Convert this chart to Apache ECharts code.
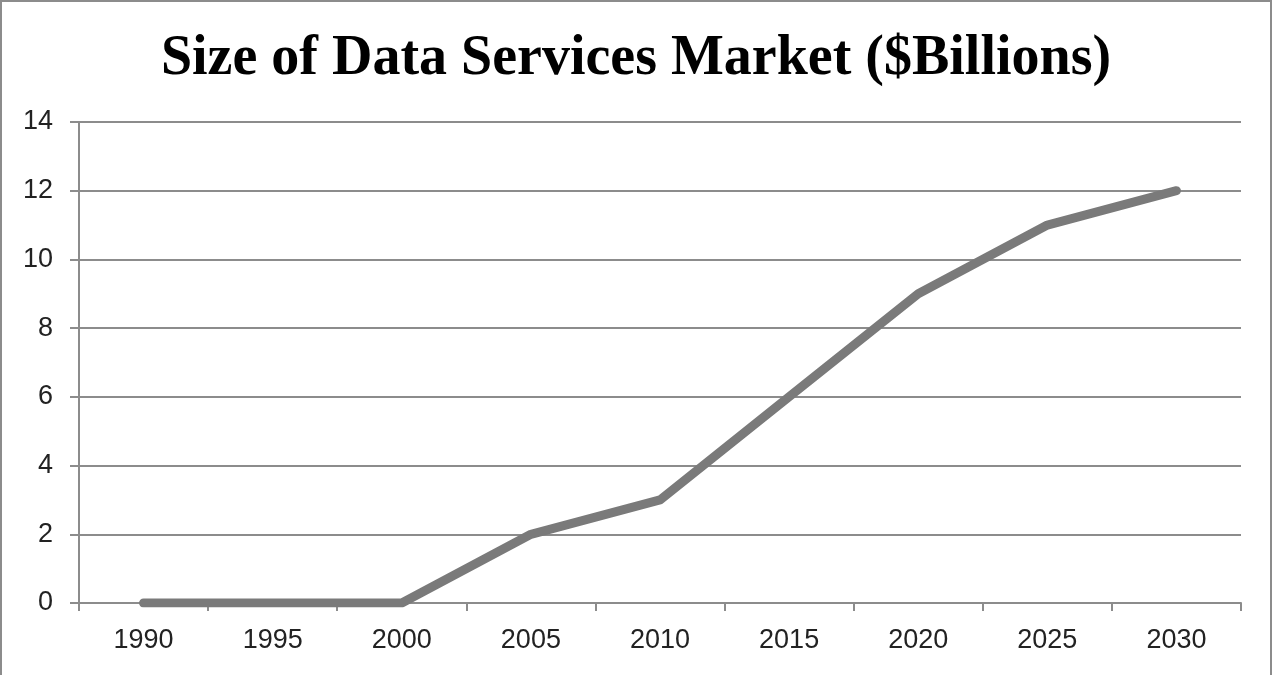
<!DOCTYPE html>
<html><head><meta charset="utf-8">
<script src="https://cdn.jsdelivr.net/npm/echarts@6/dist/echarts.min.js"></script>
<style>html,body{margin:0;padding:0;background:#fff}#c{width:1272px;height:675px;box-sizing:border-box;border:2px solid #8c8c8c;border-bottom:none}</style>
</head><body><div id="c"></div>
<script>
const titleText = "Size of Data Services Market ($Billions)";
const years = ["1990","1995","2000","2005","2010","2015","2020","2025","2030"];
const marketSize = [0,0,0,2,3,6,9,11,12];
const yTicks = {min:0,max:14,interval:2};

const chart = echarts.init(document.getElementById('c'));
chart.setOption({
  animation:false,
  title:{text:titleText,left:'center',top:25,textStyle:{fontFamily:'Liberation Serif',fontWeight:'bold',fontSize:56,color:'#000'}},
  grid:{left:77,right:29,top:120,bottom:72},
  xAxis:{type:'category',data:years,boundaryGap:true,
    axisLine:{lineStyle:{color:'#8c8c8c',width:2}},
    axisTick:{show:true,length:8,lineStyle:{color:'#8c8c8c',width:2}},
    axisLabel:{color:'#222',fontFamily:'Liberation Sans',fontSize:27,margin:24}},
  yAxis:{type:'value',min:yTicks.min,max:yTicks.max,interval:yTicks.interval,
    axisLine:{show:true,lineStyle:{color:'#8c8c8c',width:2}},
    axisTick:{show:true,length:9,lineStyle:{color:'#8c8c8c',width:2}},
    splitLine:{lineStyle:{color:'#8c8c8c',width:2}},
    axisLabel:{color:'#222',fontFamily:'Liberation Sans',fontSize:27,margin:26}},
  series:[{type:'line',data:marketSize,symbol:'none',
    lineStyle:{color:'#7a7a7a',width:9,cap:'round',join:'round'}}]
});
</script></body></html>
